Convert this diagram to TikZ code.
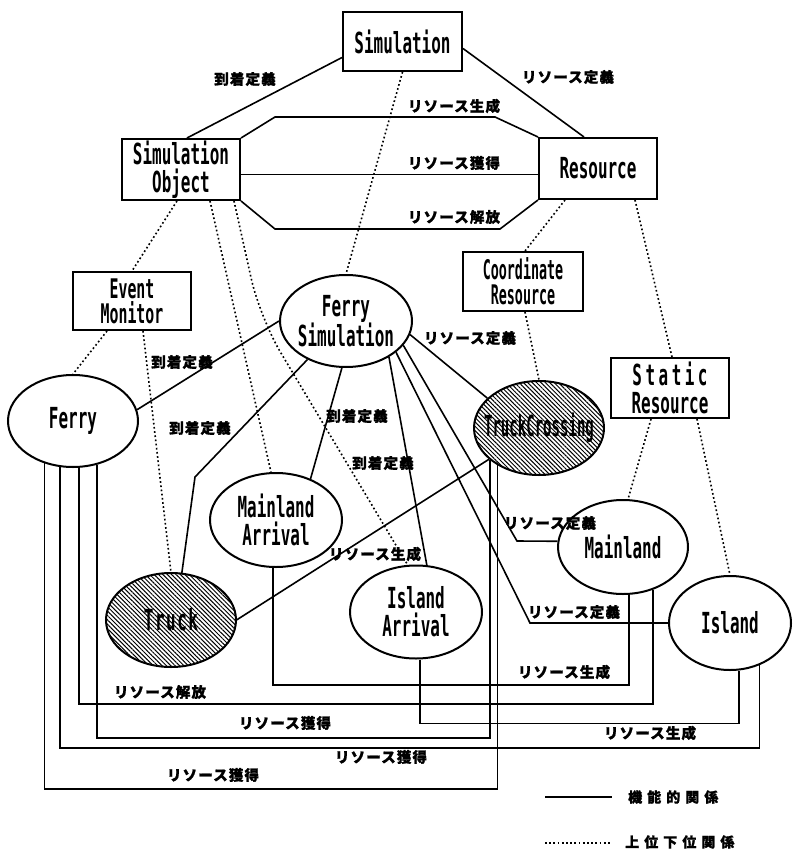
\documentclass[tikz,border=0pt]{standalone}
\usepackage{fontspec}
\usetikzlibrary{shapes.geometric,patterns.meta,calc}
\newfontfamily\lblf[FakeStretch=0.55]{DejaVu Sans Mono}
\newfontfamily\jpf[LetterSpace=8,BoldFeatures={FakeBold=1.2}]{Noto Sans CJK JP}
\newfontfamily\jpw[LetterSpace=36,BoldFeatures={FakeBold=1.2}]{Noto Sans CJK JP}
\newcommand\lsp{\hspace{3.5pt}}
\newcommand\tsp{\hspace{1.5pt}}
\tikzset{
  cls/.style={draw, line width=2pt, inner sep=0pt, align=center,
    font=\fontsize{29}{28}\selectfont\lblf\bfseries},
  smallcls/.style={font=\fontsize{27}{25}\selectfont\lblf\bfseries},
  boxn/.style={cls, rectangle},
  elln/.style={draw, line width=2pt, inner sep=0pt, ellipse},
  txt/.style={inner sep=0pt, align=center, font=\fontsize{29}{28}\selectfont\lblf\bfseries},
  hatched/.style={pattern={Lines[angle=-45,distance=3.1pt,line width=1pt]}},
  func/.style={line width=1.6pt},
  isa/.style={line width=1.6pt, dash pattern=on 1.7pt off 2.5pt},
  jl/.style={inner sep=0pt, font=\fontsize{14.5}{15}\selectfont\jpf\bfseries},
  jlw/.style={inner sep=0pt, font=\fontsize{14}{15}\selectfont\jpw\bfseries}
}
\begin{document}
\begin{tikzpicture}[x=1pt,y=-1pt]
\fill[white] (0,0) rectangle (792,850);
\useasboundingbox (0,0) rectangle (792,850);

% boxes
\node[boxn, minimum width=119pt, minimum height=59pt] (sim) at (402.5,41.5) {Simulation};
\node[boxn, minimum width=118pt, minimum height=61pt] (so) at (181,169.5) {Simulation\\Object};
\node[boxn, minimum width=118pt, minimum height=61pt] (res) at (598,168.5) {Resource};
\node[boxn, smallcls, minimum width=118pt, minimum height=58pt] (em) at (132,301) {Event\\Monitor};
\node[boxn, smallcls, minimum width=120pt, minimum height=59pt] (cr) at (523,281.5) {\scalebox{0.9}[1]{Coordinate}\\\scalebox{0.9}[1]{Resource}};
\node[boxn, minimum width=118pt, minimum height=60pt] (sr) at (670,388) {S\lsp t\lsp a\lsp t\lsp i\lsp c\\Resource};

% ellipses
\node[elln, minimum width=130pt, minimum height=92pt] (ferry) at (73,421) {};
\node[txt] (ferry-t) at (ferry.center) {Ferry};
\node[elln, minimum width=132pt, minimum height=92pt] (fsim) at (346,321) {};
\node[txt] (fsim-t) at (fsim.center) {Ferry\\Simulation};
\node[elln, minimum width=132pt, minimum height=94pt] (marr) at (276,520) {};
\node[txt] (marr-t) at (marr.center) {Mainland\\Arrival};
\node[elln, hatched, minimum width=130pt, minimum height=94pt] (truck) at (171,620) {};
\node[txt] (truck-t) at (truck.center) {T\tsp r\tsp u\tsp c\tsp k};
\node[elln, minimum width=132pt, minimum height=93pt] (iarr) at (416,612) {};
\node[txt] (iarr-t) at (iarr.center) {Island\\Arrival};
\node[elln, hatched, minimum width=130pt, minimum height=94pt] (tc) at (539,428) {};
\node[txt] (tc-t) at (tc.center) {\scalebox{0.88}[1]{TruckCrossing}};
\node[elln, minimum width=130pt, minimum height=94pt] (main) at (623,547) {};
\node[txt] (main-t) at (main.center) {Mainland};
\node[elln, minimum width=122pt, minimum height=94pt] (island) at (730,623) {};
\node[txt] (island-t) at (island.center) {Island};

% functional relations (solid)
\draw[func] ([yshift=-16pt]sim.west) -- ([xshift=6pt]so.north);
\draw[func] ([yshift=-7pt]sim.east) -- ([xshift=-14pt]res.north);
\draw[func] (so.north east) -- (275,117) -- (495,117) -- (res.north west);
\draw[func] ([yshift=-5pt]so.east) -- ([yshift=-5pt]so.east -| res.west);
\draw[func] (so.south east) -- (275,229) -- (500,229) -- (res.south west);

\draw[func] (fsim.west) -- (ferry.10);
\draw[func] (fsim.225) -- (195,477) -- (truck.77);
\draw[func] (fsim.265) -- (marr.50);
\draw[func] (fsim.320) -- (iarr.77);
\draw[func] (fsim.348) -- (tc.150);
\draw[func] (fsim.337) -- (517,541) -- (main.175);
\draw[func] (fsim.328) -- (530,623) -- (island.west);
\draw[func] (tc.212) -- (truck.east);
\draw[func] ([xshift=-3pt]marr.south) -- ++(0,117) -| ([xshift=6pt]main.south);
\draw[func] ([xshift=4pt]iarr.south) -- ++(0,64) -| ([xshift=9pt]island.south);
\draw[func] ([xshift=6pt]ferry.south) -- ++(0,236) -| (main.305);
\draw[func] (ferry.299) -- ++(0,273) -| (tc.213);
\draw[func] (ferry.254) -- ++(0,281) -| (island.305);
\draw[func] (ferry.236) -- ++(0,325.5) -| (tc.222);

% super/sub relations (dotted)
\draw[isa] (sim.south) -- (fsim.north);
\draw[isa] ([xshift=-4pt]so.south) -- (em.north);
\draw[isa] ([xshift=29pt]so.south) -- (marr.96);
\draw[isa, rounded corners=40pt] ([xshift=53pt]so.south) -- (260,318) -- (iarr.100);
\draw[isa] ([xshift=-25pt]em.south) -- (ferry.north);
\draw[isa] ([xshift=11pt]em.south) -- (truck.north);
\draw[isa] ([xshift=-33pt]res.south) -- ([xshift=2pt]cr.north);
\draw[isa] ([xshift=37pt]res.south) -- ([xshift=2pt]sr.north);
\draw[isa] ([xshift=2pt]cr.south) -- (tc.north);
\draw[isa] ([xshift=-19pt]sr.south) -- (main.84);
\draw[isa] ([xshift=27pt]sr.south) -- (island.north);

% labels
\node[jl] (l1) at (245,79) {到着定義};
\node[jl] (l2) at (568,77) {リソース定義};
\node[jl] (l3) at (454,106) {リソース生成};
\node[jl] (l4) at (454,163) {リソース獲得};
\node[jl] (l5) at (454,217) {リソース解放};
\node[jl] (l6) at (182,362) {到着定義};
\node[jl] (l7) at (200,428) {到着定義};
\node[jl] (l8) at (357,416) {到着定義};
\node[jl] (l9) at (383,463) {到着定義};
\node[jl] (l10) at (470,338) {リソース定義};
\node[jl] (l11) at (550,523) {リソース定義};
\node[jl] (l12) at (574,612) {リソース定義};
\node[jl] (l13) at (375,554) {リソース生成};
\node[jl] (l14) at (564,672) {リソース生成};
\node[jl] (l15) at (650,733) {リソース生成};
\node[jl] (l16) at (160,692) {リソース解放};
\node[jl] (l17) at (285,723) {リソース獲得};
\node[jl] (l18) at (381,757) {リソース獲得};
\node[jl] (l19) at (213,775) {リソース獲得};

% legend
\coordinate (ls1) at (545,797);
\coordinate (ls2) at (612,797);
\draw[func] (ls1) -- (ls2);
\node[jlw, anchor=west] (lt1) at (628,797) {機能的関係};
\coordinate (ld1) at (545,843);
\coordinate (ld2) at (612,843);
\draw[isa] (ld1) -- (ld2);
\node[jlw, anchor=west] (lt2) at (625,842) {上位下位関係};
\end{tikzpicture}
\end{document}
